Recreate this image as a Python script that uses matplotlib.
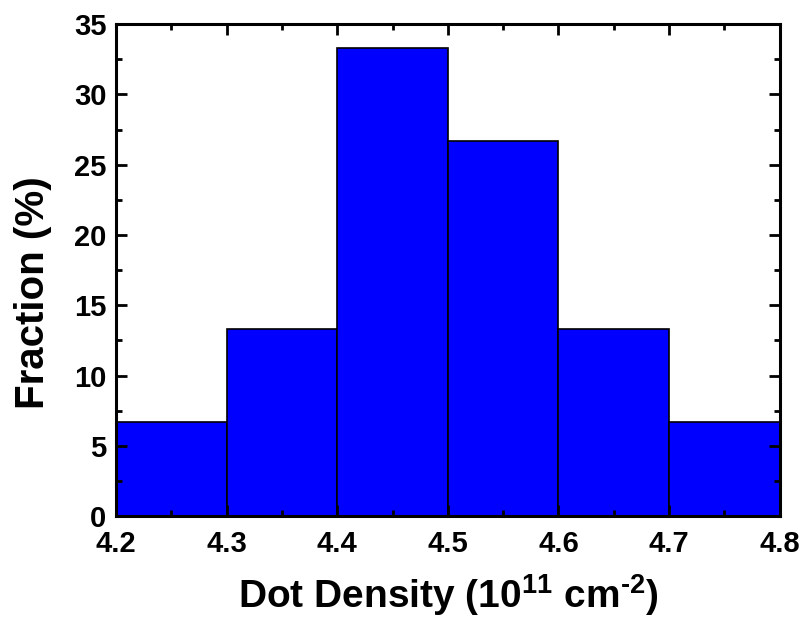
import matplotlib
matplotlib.use("Agg")
import matplotlib.pyplot as plt
from matplotlib.ticker import MultipleLocator, FormatStrFormatter

bin_edges = [4.2, 4.3, 4.4, 4.5, 4.6, 4.7, 4.8]
fractions = [6.67, 13.33, 33.33, 26.67, 13.33, 6.67]

plt.rcParams['font.family'] = ['Liberation Sans', 'DejaVu Sans']
plt.rcParams['font.weight'] = 'bold'
plt.rcParams['mathtext.fontset'] = 'custom'
plt.rcParams['mathtext.rm'] = 'Liberation Sans:bold'
plt.rcParams['mathtext.bf'] = 'Liberation Sans:bold'
plt.rcParams['mathtext.it'] = 'Liberation Sans:bold'

fig = plt.figure(figsize=(8.03, 6.19), dpi=100)
ax = fig.add_axes([0.1445, 0.166, 0.8265, 0.795])

lefts = bin_edges[:-1]
widths = [b - a for a, b in zip(bin_edges[:-1], bin_edges[1:])]
ax.bar(lefts, fractions, width=widths, align='edge', color='#0000FF',
       edgecolor='black', linewidth=1.2)

ax.set_xlim(4.2, 4.8)
ax.set_ylim(0, 35)
ax.xaxis.set_major_locator(MultipleLocator(0.1))
ax.xaxis.set_minor_locator(MultipleLocator(0.05))
ax.yaxis.set_major_locator(MultipleLocator(5))
ax.yaxis.set_minor_locator(MultipleLocator(2.5))
ax.xaxis.set_major_formatter(FormatStrFormatter('%.1f'))

for s in ax.spines.values():
    s.set_linewidth(2.2)
ax.tick_params(which='both', direction='in', top=True, right=True, width=2)
ax.tick_params(which='major', length=8, labelsize=21)
ax.tick_params(axis='x', which='major', pad=10)
ax.tick_params(axis='y', which='major', pad=7)
ax.tick_params(which='minor', length=4)

ax.set_xlabel('Dot Density (10$^{\\text{11}}$ cm$^{\\text{-2}}$)', fontsize=28, fontweight='bold', labelpad=10)
ax.set_ylabel('Fraction (%)', fontsize=29, fontweight='bold')
ax.yaxis.set_label_coords(-0.097, 0.455)

fig.savefig('out.png', dpi=100)
